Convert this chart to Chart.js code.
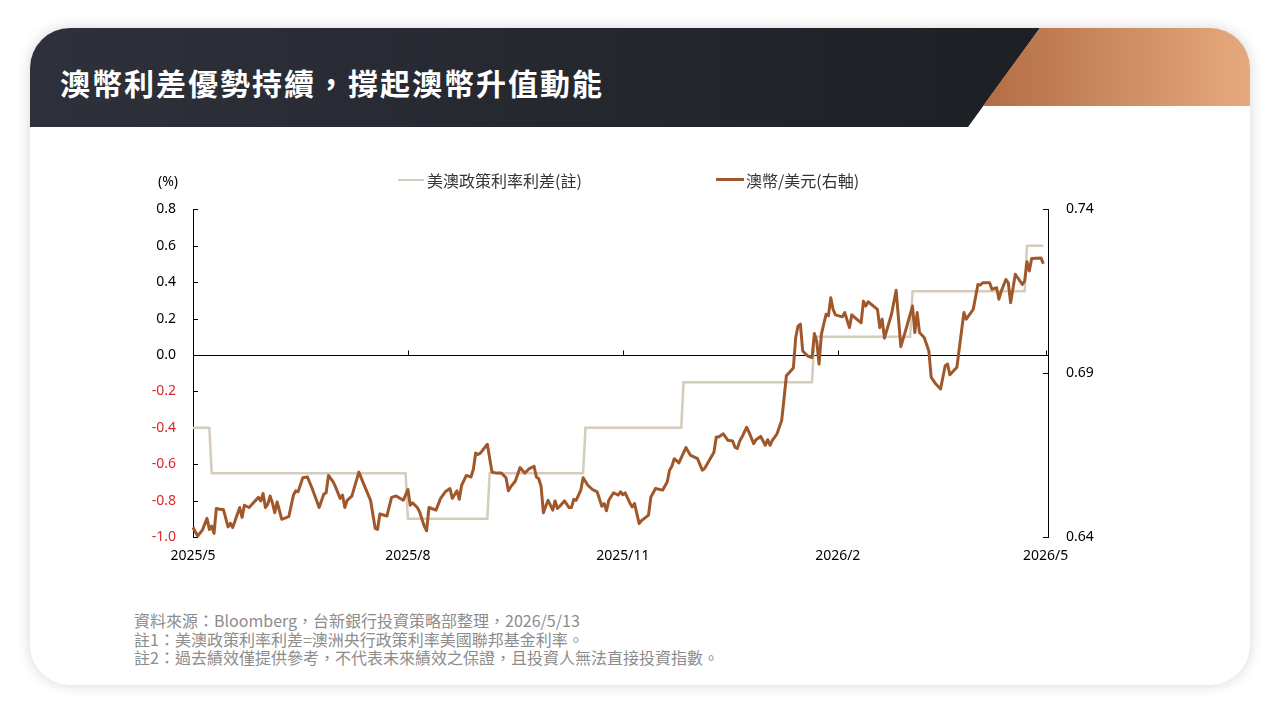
<!DOCTYPE html>
<html><head><meta charset="utf-8">
<script src="https://cdn.jsdelivr.net/npm/chart.js@4.4.1/dist/chart.umd.min.js"></script>
<style>
html,body{margin:0;padding:0;width:1280px;height:720px;background:#fff;overflow:hidden;font-family:"Noto Sans CJK TC","Noto Sans",sans-serif;}
.card{position:absolute;left:30px;top:28px;width:1220px;height:657px;background:#fff;border-radius:40px;box-shadow:0 0 14px rgba(0,0,0,0.16);overflow:hidden;}
.dark{position:absolute;left:0;top:0;width:1220px;height:99px;background:linear-gradient(90deg,#2e313b 0%,#1c1e23 90%);clip-path:polygon(0 0,1010px 0,938px 99px,0 99px);}
.orange{position:absolute;left:0;top:0;width:1220px;height:78px;background:linear-gradient(90deg,#b26c43 78%,#e6a97d 100%);clip-path:polygon(1010px 0,1220px 0,1220px 78px,953px 78px);}
.title{position:absolute;left:30px;top:38px;color:#fff;font-size:30px;font-weight:700;letter-spacing:2px;line-height:32px;white-space:nowrap;}
#wrap{position:absolute;left:100px;top:183px;width:1040px;height:397px;}
.leg{position:absolute;font-size:16px;color:#333;line-height:20px;white-space:nowrap;}
.sw{position:absolute;}
.unit{position:absolute;left:158px;top:172px;font-family:"Noto Sans",sans-serif;font-size:14px;color:#000;line-height:18px;}
.notes{position:absolute;left:134px;top:611px;font-size:16px;line-height:18.5px;color:#8c8c8c;white-space:nowrap;}
</style></head>
<body>
<div class="card">
  <div class="dark"></div>
  <div class="orange"></div>
  <div class="title">澳幣利差優勢持續，撐起澳幣升值動能</div>
</div>
<div id="wrap"><canvas id="c"></canvas></div>
<div class="unit">(%)</div>
<div class="sw" style="left:398px;top:179px;width:26px;height:2px;background:#d6ccbd"></div>
<div class="leg" style="left:427px;top:170px">美澳政策利率利差(註)</div>
<div class="sw" style="left:716px;top:178px;width:28px;height:3px;background:#a0582b"></div>
<div class="leg" style="left:746px;top:170px">澳幣/美元(右軸)</div>
<div class="notes">資料來源：Bloomberg，台新銀行投資策略部整理，2026/5/13<br>註1：美澳政策利率利差=澳洲央行政策利率美國聯邦基金利率。<br>註2：過去績效僅提供參考，不代表未來績效之保證，且投資人無法直接投資指數。</div>
<script>
// x values are days since 2025-05-01
const xTickDays = [0, 92, 184, 276, 365];
const xTickLabels = ['2025/5', '2025/8', '2025/11', '2026/2', '2026/5'];
const leftTicks = [-1.0, -0.8, -0.6, -0.4, -0.2, 0.0, 0.2, 0.4, 0.6, 0.8];
const rightTicks = [0.64, 0.69, 0.74];

// 美澳政策利率利差 (step series)
const spreadDays = [0, 7, 8, 91, 92, 126, 127, 167, 168, 209, 210, 265, 266, 307, 308, 356, 357, 364];
const spreadValues = [-0.4, -0.4, -0.65, -0.65, -0.9, -0.9, -0.65, -0.65, -0.4, -0.4, -0.15, -0.15, 0.1, 0.1, 0.35, 0.35, 0.6, 0.6];

// 澳幣/美元
const audDays = [0,2,4,6,7,8,9,10,12,13,15,16,17,20,21,22,24,28,29,30,31,32,33,34,35,36,38,41,43,44,45,47,49,51,54,56,57,58,60,61,63,64,65,66,68,71,73,76,78,79,80,83,85,87,90,92,93,94,96,97,99,100,101,104,106,108,110,111,113,114,115,117,119,120,121,122,123,126,128,130,132,134,135,136,138,140,142,144,146,147,148,149,150,151,152,154,155,156,157,159,161,162,163,164,166,167,169,171,173,175,176,177,178,180,182,183,184,185,187,188,189,191,192,195,196,198,201,203,204,205,206,208,211,213,216,218,219,223,224,225,227,229,231,232,233,234,235,237,238,240,241,243,245,246,247,248,250,252,253,254,257,258,259,260,261,263,265,266,267,268,269,271,272,273,274,275,278,279,281,282,285,286,287,288,289,293,294,295,296,299,301,303,305,308,309,310,311,313,315,316,318,320,322,323,324,327,330,331,334,336,337,338,341,342,344,345,346,348,349,350,352,355,356,357,358,359,363,364];
const audValues = [0.6429,0.6403,0.6421,0.6457,0.6423,0.6433,0.6411,0.6487,0.6484,0.6484,0.6431,0.6442,0.6429,0.6490,0.6460,0.6497,0.6490,0.6521,0.6510,0.6533,0.6490,0.6500,0.6525,0.6504,0.6474,0.6507,0.6454,0.6462,0.6528,0.6541,0.6538,0.6581,0.6583,0.6548,0.6490,0.6531,0.6535,0.6588,0.6568,0.6553,0.6518,0.6528,0.6490,0.6512,0.6525,0.6598,0.6563,0.6512,0.6426,0.6423,0.6470,0.6464,0.6521,0.6525,0.6512,0.6545,0.6497,0.6504,0.6490,0.6477,0.6433,0.6419,0.6490,0.6482,0.6518,0.6538,0.6548,0.6518,0.6541,0.6515,0.6558,0.6588,0.6583,0.6606,0.6656,0.6652,0.6656,0.6683,0.6598,0.6595,0.6595,0.6581,0.6541,0.6553,0.6571,0.6612,0.6595,0.6609,0.6616,0.6583,0.6578,0.6555,0.6474,0.6494,0.6512,0.6482,0.6510,0.6487,0.6494,0.6510,0.6490,0.6490,0.6515,0.6512,0.6543,0.6581,0.6558,0.6545,0.6538,0.6494,0.6502,0.6480,0.6512,0.6535,0.6528,0.6538,0.6529,0.6535,0.6504,0.6492,0.6502,0.6441,0.6450,0.6467,0.6522,0.6548,0.6543,0.6568,0.6604,0.6616,0.6639,0.6626,0.6673,0.6649,0.6639,0.6604,0.6609,0.6659,0.6705,0.6705,0.6715,0.6695,0.6693,0.6674,0.6670,0.6692,0.6705,0.6735,0.6720,0.6685,0.6697,0.6707,0.6680,0.6697,0.6680,0.6695,0.6715,0.6756,0.6822,0.6892,0.6916,0.7009,0.7044,0.7050,0.6968,0.6953,0.6948,0.7021,0.6997,0.6928,0.7019,0.7080,0.7075,0.7130,0.7095,0.7078,0.7072,0.7085,0.7039,0.7078,0.7060,0.7054,0.7120,0.7105,0.7118,0.7095,0.7039,0.7065,0.7007,0.7080,0.7153,0.6981,0.7029,0.7105,0.7024,0.7085,0.7024,0.7009,0.6968,0.6887,0.6867,0.6852,0.6923,0.6928,0.6895,0.6918,0.7085,0.7065,0.7095,0.7171,0.7169,0.7176,0.7176,0.7156,0.7161,0.7126,0.7151,0.7186,0.7176,0.7115,0.7202,0.7171,0.7181,0.7240,0.7212,0.7250,0.7252,0.7234];

const tickFont = {family: 'Noto Sans', size: 14};

const axisMarks = {
  id: 'axisMarks',
  beforeDatasetsDraw(chart) {
    const {ctx, chartArea: a, scales: {x, y, y1}} = chart;
    ctx.save();
    ctx.strokeStyle = '#000';
    ctx.lineWidth = 1;
    ctx.beginPath();
    const y0 = Math.round(y.getPixelForValue(0)) + 0.5;
    ctx.moveTo(a.left, y0); ctx.lineTo(a.right, y0);
    xTickDays.forEach(d => {
      const px = Math.round(x.getPixelForValue(d)) + 0.5;
      ctx.moveTo(px, y0); ctx.lineTo(px, y0 - 5);
    });
    y.ticks.forEach(t => {
      const py = Math.round(y.getPixelForValue(t.value)) + 0.5;
      ctx.moveTo(a.left, py); ctx.lineTo(a.left + 5, py);
    });
    y1.ticks.forEach(t => {
      const py = Math.round(y1.getPixelForValue(t.value)) + 0.5;
      ctx.moveTo(a.right, py); ctx.lineTo(a.right - 5, py);
    });
    ctx.stroke();
    ctx.restore();
  }
};

new Chart(document.getElementById('c'), {
  type: 'line',
  data: {
    datasets: [
      {
        label: '澳幣/美元(右軸)',
        data: audDays.map((d, i) => ({x: d, y: audValues[i]})),
        yAxisID: 'y1',
        borderColor: '#a0582b',
        borderWidth: 3,
        pointRadius: 0,
        tension: 0,
        clip: 4,
        borderJoinStyle: 'round'
      },
      {
        label: '美澳政策利率利差(註)',
        data: spreadDays.map((d, i) => ({x: d, y: spreadValues[i]})),
        yAxisID: 'y',
        borderColor: '#d6ccbd',
        borderWidth: 2.5,
        pointRadius: 0,
        tension: 0,
        clip: 4
      }
    ]
  },
  options: {
    responsive: true,
    maintainAspectRatio: false,
    animation: false,
    layout: {padding: {top: 11, left: 0, right: 0, bottom: 0}},
    plugins: {legend: {display: false}, tooltip: {enabled: false}},
    scales: {
      x: {
        type: 'linear', min: 0, max: 366, position: 'bottom',
        afterBuildTicks: s => { s.ticks = xTickDays.map(v => ({value: v})); },
        afterFit: s => { s.height = 43; },
        grid: {display: false, drawTicks: false},
        border: {display: false},
        ticks: {autoSkip: false, maxRotation: 0, padding: 11, color: '#000', font: tickFont,
          callback: (v, i) => xTickLabels[i]}
      },
      y: {
        type: 'linear', position: 'left', min: -1, max: 0.8,
        afterBuildTicks: s => { s.ticks = leftTicks.map(v => ({value: v})); },
        afterFit: s => { s.width = 93; },
        grid: {display: false, drawTicks: false},
        border: {display: true, color: '#000', width: 1},
        ticks: {padding: 17, font: tickFont,
          color: c => (c.tick && c.tick.value < 0) ? '#e0262c' : '#000',
          callback: v => Number(v).toFixed(1)}
      },
      y1: {
        type: 'linear', position: 'right', min: 0.64, max: 0.74,
        afterBuildTicks: s => { s.ticks = rightTicks.map(v => ({value: v})); },
        afterFit: s => { s.width = 92; },
        grid: {display: false, drawTicks: false},
        border: {display: true, color: '#000', width: 1},
        ticks: {padding: 18, color: '#000', font: tickFont,
          callback: v => Number(v).toFixed(2)}
      }
    }
  },
  plugins: [axisMarks]
});
</script>
</body></html>
